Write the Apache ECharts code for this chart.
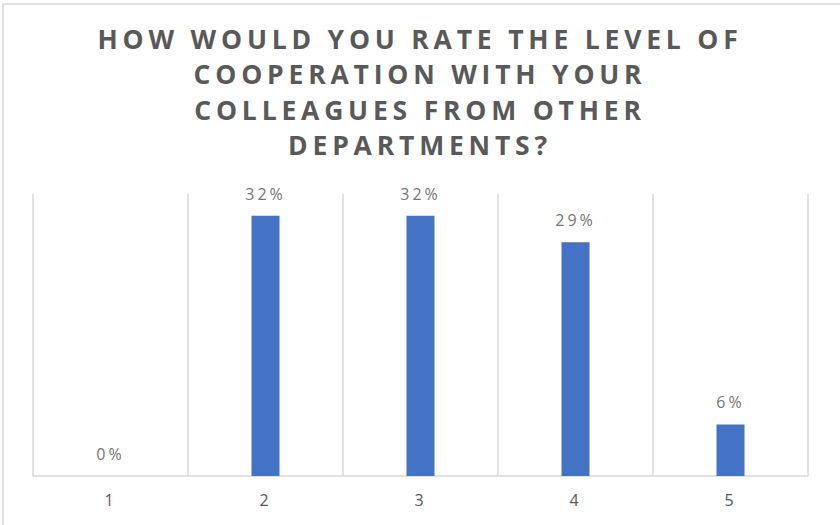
<!DOCTYPE html>
<html>
<head>
<meta charset="utf-8">
<script src="https://cdn.jsdelivr.net/npm/echarts@6/dist/echarts.min.js"></script>
<style>
html,body{margin:0;padding:0;background:#fff;}
#chart{width:840px;height:525px;}
#chart svg text{letter-spacing:3px;}
#chart svg text[style*="bold"]{letter-spacing:4.8px;}
</style>
</head>
<body>
<div id="chart"></div>
<script>
const titleText = "HOW WOULD YOU RATE THE LEVEL OF\nCOOPERATION WITH YOUR\nCOLLEAGUES FROM OTHER\nDEPARTMENTS?";
const categories = ["1", "2", "3", "4", "5"];
const values = [0, 32.3, 32.3, 29.0, 6.4];

const chart = echarts.init(document.getElementById('chart'), null, {renderer: 'svg'});
chart.setOption({
  animation: false,
  backgroundColor: '#ffffff',
  title: {
    text: titleText,
    left: 'center',
    top: 21,
    padding: 0,
    textStyle: {
      fontFamily: 'Open Sans',
      fontWeight: 'bold',
      fontSize: 26.5,
      lineHeight: 35.5,
      color: '#595959'
    }
  },
  graphic: [{
    type: 'polyline',
    shape: {points: [[3, 530], [3, 4], [845, 4]]},
    style: {stroke: '#d9d9d9', lineWidth: 1.5, fill: null},
    silent: true
  }],
  grid: {left: 33, right: 32, top: 194, bottom: 49},
  xAxis: {
    type: 'category',
    data: categories,
    axisLine: {show: true, lineStyle: {color: '#d9d9d9', width: 1.5}},
    axisTick: {show: false},
    splitLine: {show: true, lineStyle: {color: '#d9d9d9', width: 1.5}},
    axisLabel: {color: '#595959', fontSize: 16, fontFamily: 'Open Sans', margin: 16}
  },
  yAxis: {
    type: 'value',
    min: 0,
    max: 35,
    show: false,
    splitLine: {show: false}
  },
  series: [{
    type: 'bar',
    data: values,
    barWidth: 28,
    itemStyle: {color: '#4472C4'},
    label: {
      show: true,
      position: 'top',
      distance: 14,
      color: '#767676',
      fontSize: 16,
      fontFamily: 'Open Sans',
      formatter: p => Math.round(p.value) + '%'
    }
  }]
});
</script>
</body>
</html>
